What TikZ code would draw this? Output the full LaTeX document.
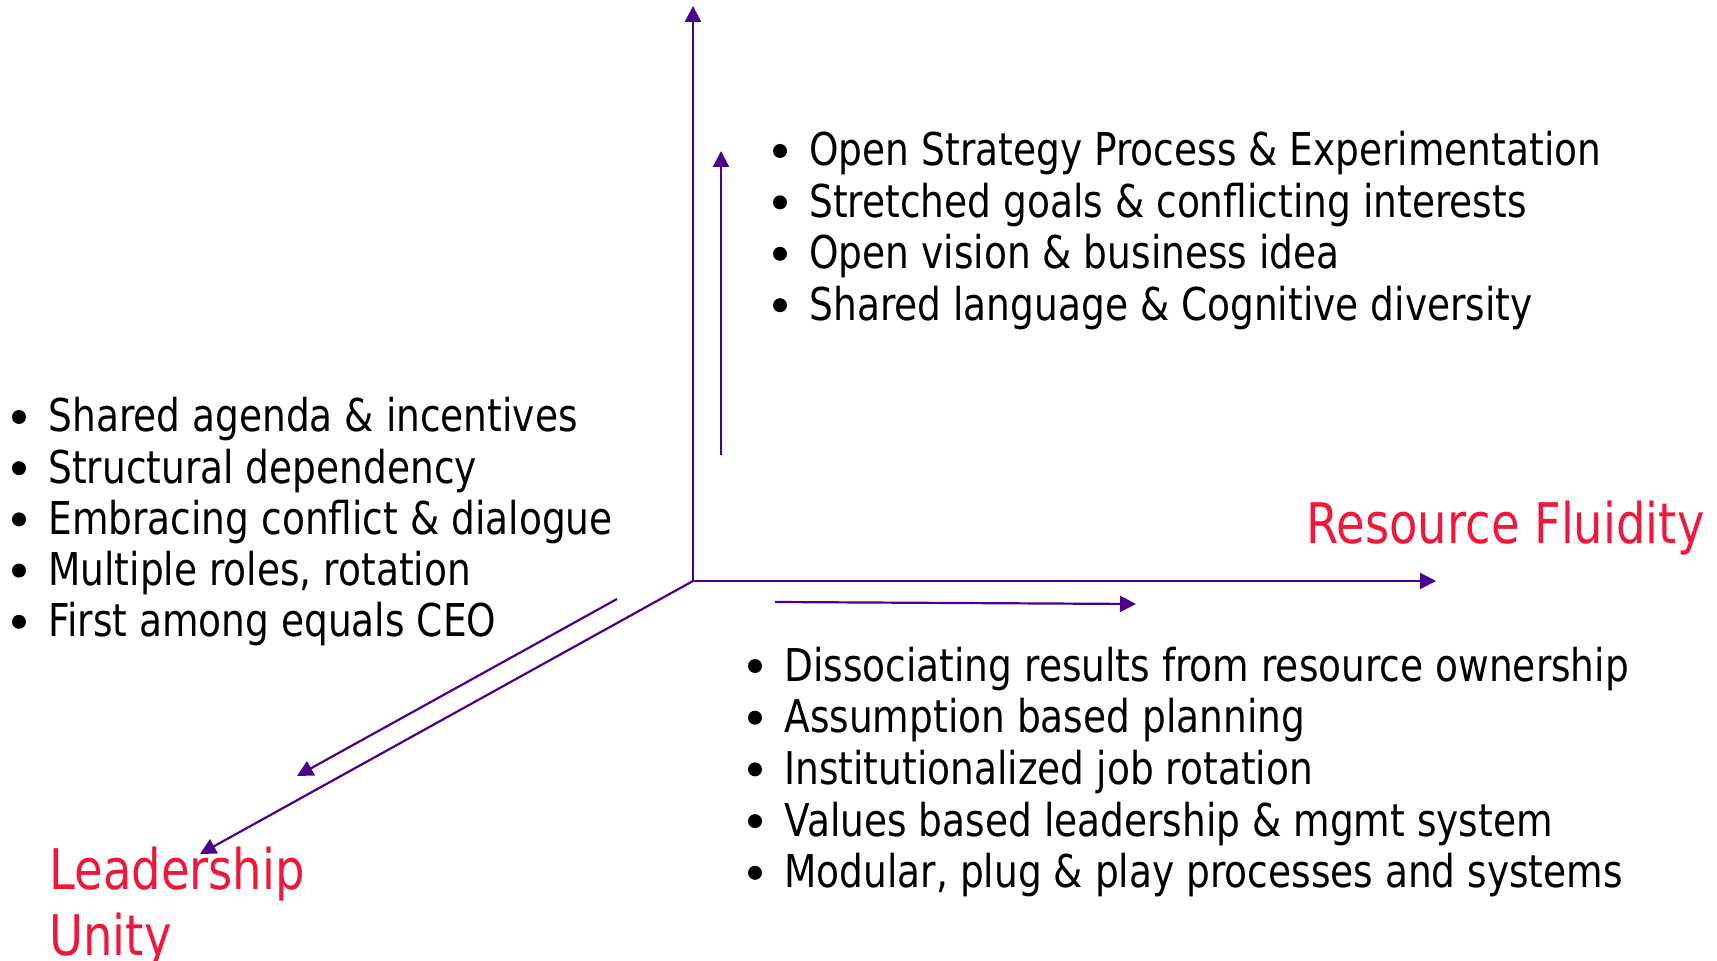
\documentclass[tikz,border=0pt]{standalone}
\usepackage{fontspec}
\setmainfont{DejaVu Sans}[FakeStretch=0.83]
\usetikzlibrary{arrows.meta, positioning}
\definecolor{axispurple}{RGB}{75,0,140}
\definecolor{labelred}{RGB}{240,24,58}
\tikzset{
  axis/.style={draw=axispurple, line width=1.1pt, -{Triangle[length=8pt,width=8pt]}},
  item/.style={anchor=base west, inner sep=0pt, font=\fontsize{22.6pt}{26pt}\selectfont},
  axislabel/.style={anchor=base west, inner sep=0pt, text=labelred, font=\fontsize{28pt}{32pt}\selectfont}
}

\begin{document}
\begin{tikzpicture}[x=0.5pt, y=-0.5pt]
    \useasboundingbox (0,0) rectangle (1717,961);

    % Axes
    \coordinate (O) at (693,581);
    \coordinate (uptip) at (693,6);
    \coordinate (righttip) at (1436,581);
    \coordinate (diagtip) at (200,854);
    \draw[axis] (O) -- (uptip);
    \draw[axis] (O) -- (righttip);
    \draw[axis] (O) -- (diagtip);

    % Short arrows beside the axes
    \coordinate (upstart) at (721,455);
    \coordinate (upend) at (721,151);
    \coordinate (rightstart) at (775,602);
    \coordinate (rightend) at (1136,604);
    \coordinate (diagstart) at (617,599);
    \coordinate (diagend) at (297,776);
    \draw[axis] (upstart) -- (upend);
    \draw[axis] (rightstart) -- (rightend);
    \draw[axis] (diagstart) -- (diagend);

    % Bullet lists
    \foreach \t [count=\i] in {Open Strategy Process \& Experimentation,
        Stretched goals \& conflicting interests,
        Open vision \& business idea,
        Shared language \& Cognitive diversity}
    {
      \node[item] (top\i) at (809,{166+51.4*(\i-1)}) {\t};
      \fill (top\i.base west) ++(-29,-15) circle[radius=7];
    }

    \foreach \t [count=\i] in {Shared agenda \& incentives,
        Structural dependency,
        Embracing conflict \& dialogue,
        {Multiple roles, rotation},
        First among equals CEO}
    {
      \node[item] (left\i) at (48,{432+51.2*(\i-1)}) {\t};
      \fill (left\i.base west) ++(-29,-15) circle[radius=7];
    }

    \foreach \t [count=\i] in {Dissociating results from resource ownership,
        Assumption based planning,
        Institutionalized job rotation,
        Values based leadership \& mgmt system,
        {Modular, plug \& play processes and systems}}
    {
      \node[item] (bottom\i) at (784,{681+51.7*(\i-1)}) {\t};
      \fill (bottom\i.base west) ++(-29,-15) circle[radius=7];
    }

    % Axis labels
    \node[axislabel] (fluidity) at (1306,544) {Resource Fluidity};
    \node[axislabel] (leadership) at (49,889) {Leadership};
    \node[axislabel] (unity) at (49,955) {Unity};
\end{tikzpicture}
\end{document}
